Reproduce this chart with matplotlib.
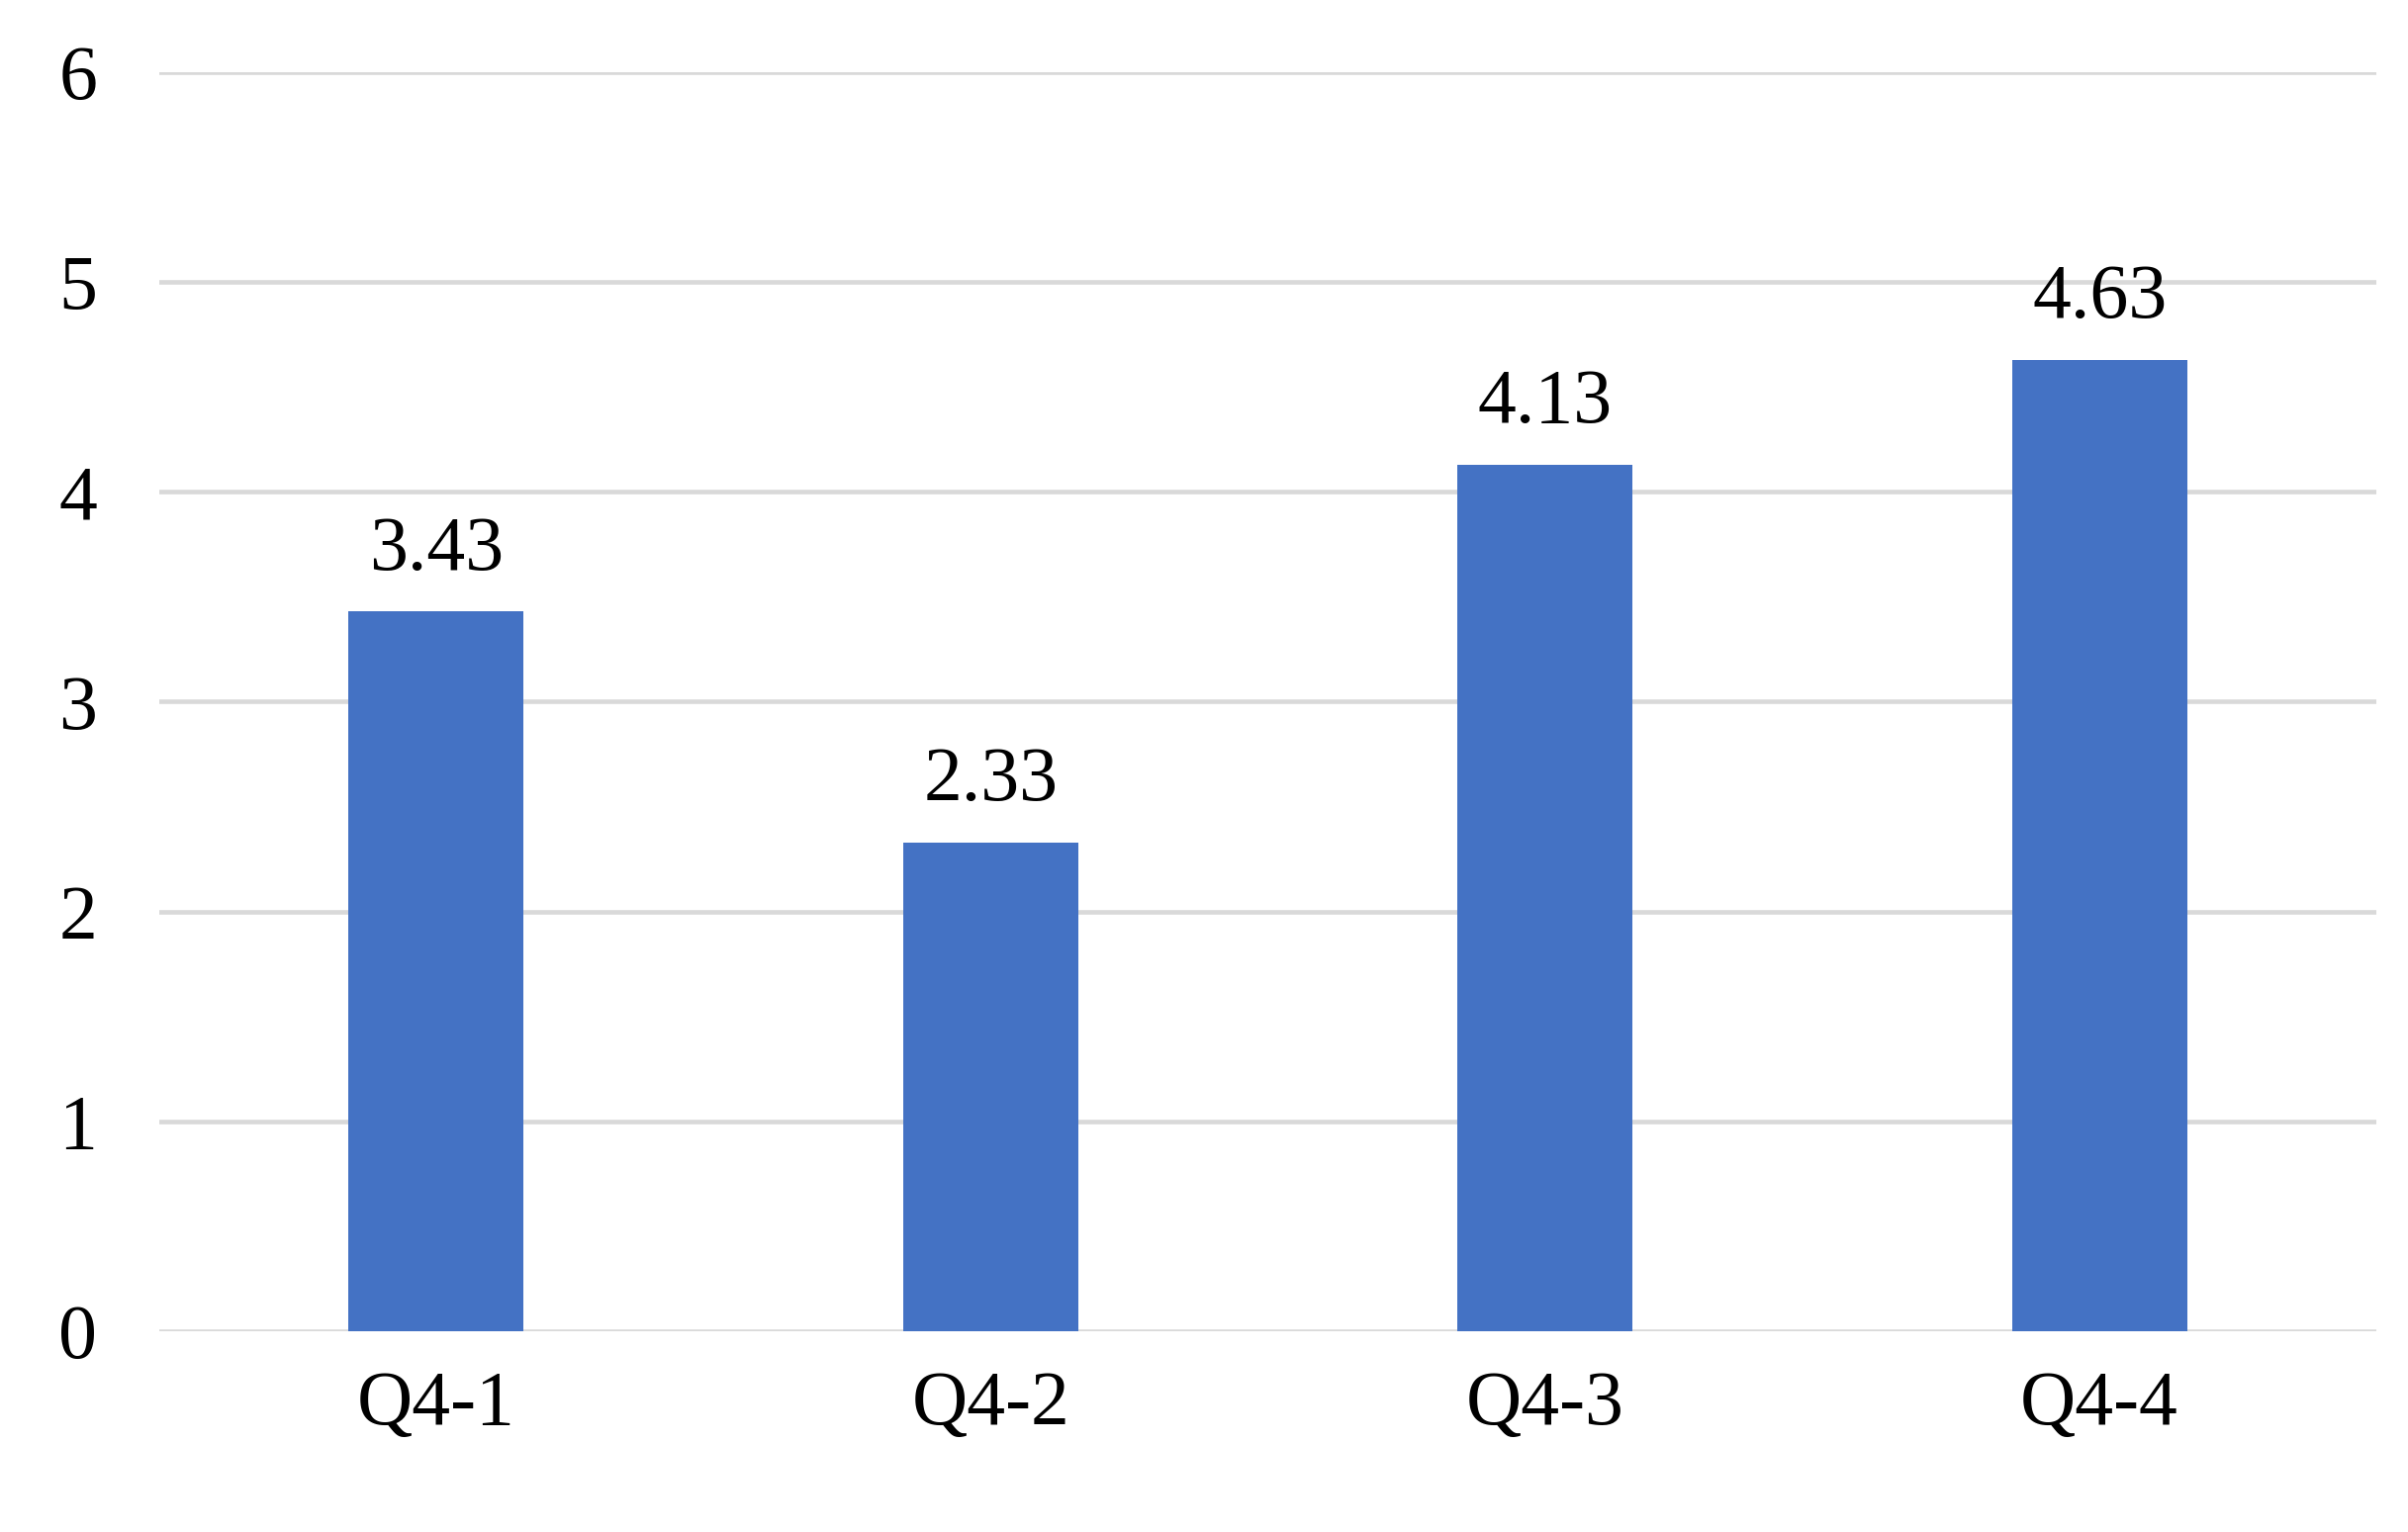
import matplotlib.pyplot as plt
import numpy as np

categories = ['Q4-1', 'Q4-2', 'Q4-3', 'Q4-4']
values = [3.43, 2.33, 4.13, 4.63]
yticks = [0, 1, 2, 3, 4, 5, 6]

plt.rcParams['font.family'] = ['Liberation Serif', 'DejaVu Serif']

fig = plt.figure(figsize=(24.34, 15.49), dpi=100)
ax = fig.add_axes([0.066, 0.131, 0.921, 0.822])

x = np.arange(len(categories))
ax.bar(x, values, width=0.316, color='#4472C4', zorder=3)
for xi, v in zip(x, values):
    ax.text(xi, v + 0.12, '{:.2f}'.format(v), ha='center', va='bottom', fontsize=56)

ax.set_ylim(0, 6)
ax.set_xlim(-0.5, len(categories) - 0.5)
ax.set_yticks(yticks)
ax.set_xticks(x)
ax.set_xticklabels(categories)
ax.yaxis.grid(True, color='#d9d9d9', linewidth=3.3, zorder=0)
for s in ax.spines.values():
    s.set_visible(False)
ax.tick_params(axis='both', length=0, labelsize=56)
ax.tick_params(axis='y', pad=45)
ax.tick_params(axis='x', pad=28)

fig.savefig('out.png', dpi=100)
